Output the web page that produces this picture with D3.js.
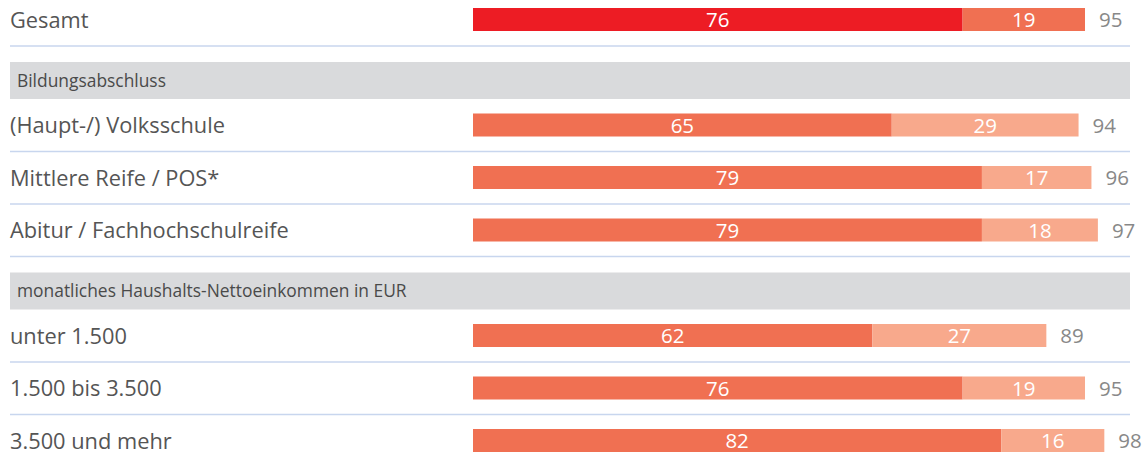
<!DOCTYPE html>
<html>
<head>
<meta charset="utf-8">
<script src="https://cdn.jsdelivr.net/npm/d3@7"></script>
<style>
  body { margin: 0; background: #fff; }
  svg { display: block; font-family: "Open Sans", "Noto Sans", sans-serif; }
</style>
</head>
<body>
<div id="canvas"></div>
<script>
// chart values
var rowLabels = ["Gesamt", "(Haupt-/) Volksschule", "Mittlere Reife / POS*", "Abitur / Fachhochschulreife",
                 "unter 1.500", "1.500 bis 3.500", "3.500 und mehr"];
var valuesA = [76, 65, 79, 79, 62, 76, 82];
var valuesB = [19, 29, 17, 18, 27, 19, 16];
var totals = [95, 94, 96, 97, 89, 95, 98];
var sectionTitles = ["Bildungsabschluss", "monatliches Haushalts-Nettoeinkommen in EUR"];
var sectionBefore = [1, 4]; // section header goes before this row index

var width = 1146, height = 464;

var svg = d3.select("#canvas").append("svg")
    .attr("width", width)
    .attr("height", height);

var x = d3.scaleLinear().domain([0, 95]).range([473, 1085]);

// work out vertical layout : rows and grey section bands
var rowY = [], headY = [];
var y = 19.5;
rowLabels.forEach(function (lab, i) {
  var s = sectionBefore.indexOf(i);
  if (s >= 0) {
    y += 61;
    headY.push(y);
    y += 44.5;
  } else if (i > 0) {
    y += 52.5;
  }
  rowY.push(y);
});

var barH = 23;

// section bands
svg.selectAll("rect.band")
  .data(sectionTitles)
  .enter().append("rect")
    .attr("class", "band")
    .attr("x", 10)
    .attr("y", function (d, i) { return headY[i] - 18.5; })
    .attr("width", 1120)
    .attr("height", 37)
    .attr("fill", "#d9dadc");

svg.selectAll("text.head")
  .data(sectionTitles)
  .enter().append("text")
    .attr("class", "head")
    .attr("x", 17)
    .attr("y", function (d, i) { return headY[i]; })
    .attr("dy", "0.35em")
    .attr("font-size", 17.4)
    .attr("fill", "#4a4a4a")
    .text(function (d) { return d; });

// separator lines under each row
svg.selectAll("line.sep")
  .data(rowLabels.slice(0, rowLabels.length - 1))
  .enter().append("line")
    .attr("class", "sep")
    .attr("x1", 10)
    .attr("x2", 1130)
    .attr("y1", function (d, i) { return rowY[i] + 26.5; })
    .attr("y2", function (d, i) { return rowY[i] + 26.5; })
    .attr("stroke", "#c8d6ee")
    .attr("stroke-width", 1.5);

// row labels
svg.selectAll("text.lab")
  .data(rowLabels)
  .enter().append("text")
    .attr("class", "lab")
    .attr("x", 10)
    .attr("y", function (d, i) { return rowY[i]; })
    .attr("dy", "0.37em")
    .attr("font-size", 21.8)
    .attr("fill", "#555")
    .text(function (d) { return d; });

var rows = svg.selectAll("g.row")
  .data(rowLabels.map(function (d, i) { return { i: i, a: valuesA[i], b: valuesB[i], t: totals[i] }; }))
  .enter().append("g")
    .attr("class", "row")
    .attr("transform", function (d) { return "translate(0," + rowY[d.i] + ")"; });

rows.append("rect")
    .attr("x", x(0))
    .attr("y", -barH / 2)
    .attr("width", function (d) { return x(d.a) - x(0); })
    .attr("height", barH)
    .attr("fill", function (d) { return d.i === 0 ? "#ed1c24" : "#f07052"; });

rows.append("rect")
    .attr("x", function (d) { return x(d.a); })
    .attr("y", -barH / 2)
    .attr("width", function (d) { return x(d.a + d.b) - x(d.a); })
    .attr("height", barH)
    .attr("fill", function (d) { return d.i === 0 ? "#f07052" : "#f8a98c"; });

rows.append("text")
    .attr("x", function (d) { return (x(0) + x(d.a)) / 2; })
    .attr("dy", "0.37em")
    .attr("text-anchor", "middle")
    .attr("font-size", 20.5)
    .attr("fill", "#fff")
    .text(function (d) { return d.a; });

rows.append("text")
    .attr("x", function (d) { return (x(d.a) + x(d.a + d.b)) / 2; })
    .attr("dy", "0.37em")
    .attr("text-anchor", "middle")
    .attr("font-size", 20.5)
    .attr("fill", "#fff")
    .text(function (d) { return d.b; });

rows.append("text")
    .attr("x", function (d) { return x(d.a + d.b) + 14; })
    .attr("dy", "0.37em")
    .attr("font-size", 20.5)
    .attr("fill", "#888")
    .text(function (d) { return d.t; });
</script>
</body>
</html>
